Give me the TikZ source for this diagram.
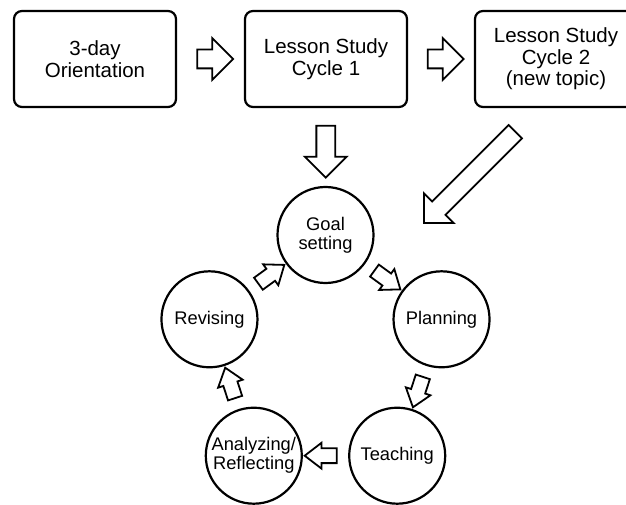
\documentclass[tikz,border=0pt]{standalone}
\usepackage{fontspec}
\setmainfont{Liberation Sans}
\usetikzlibrary{shapes.arrows,calc}
\tikzset{>=latex}

\begin{document}
\begin{tikzpicture}[x=1pt,y=1pt,
    stage/.style={draw,line width=2.2pt,rounded corners=8pt,minimum width=162pt,
      minimum height=96pt,align=center,font=\fontsize{20.5}{21.5}\selectfont},
    phase/.style={draw,circle,line width=2.2pt,minimum size=96pt,inner sep=0pt,
      align=center,font=\fontsize{18.3}{19}\selectfont},
    bigarrow/.style={draw,single arrow,line width=1.8pt,inner xsep=0pt,inner ysep=8.5pt,
      single arrow head extend=11.5pt,single arrow head indent=0pt},
    smallarrow/.style={draw,single arrow,line width=1.8pt,inner xsep=0pt,inner ysep=6.5pt,
      single arrow head extend=5.5pt,single arrow tip angle=75,minimum height=32pt}]
                \clip (0,0) rectangle (626,-505);
                \node[stage] (orient) at (95,-59) {3-day\\Orientation};
                \node[stage] (cyc1) at (326,-59) {Lesson Study\\Cycle 1};
                \node[stage] (cyc2) at (556,-59) {Lesson Study\\Cycle 2\\(new topic)};
                \coordinate (ring) at (325.5,-357);
                \node[phase] (goal) at ($(ring)+(90:122)$) {Goal\\setting};
                \node[phase] (plan) at ($(ring)+(18:122)$) {Planning};
                \node[phase] (teach) at ($(ring)+(-54:122)$) {Teaching};
                \node[phase] (analyze) at ($(ring)+(-126:122)$) {Analyzing/\\Reflecting};
                \node[phase] (revise) at ($(ring)+(162:122)$) {Revising};
                \node[bigarrow,minimum height=36pt] (a1) at ($(orient.east)!0.5!(cyc1.west)$) {};
                \node[bigarrow,minimum height=36pt] (a2) at ($(cyc1.east)!0.5!(cyc2.west)$) {};
                \node[bigarrow,minimum height=52pt,rotate=-90] (a3) at ($(cyc1.south)!0.5!(goal.north)$) {};
                \node[bigarrow,minimum height=129pt,rotate=-135] (a4) at (473,-174) {};
                \node[smallarrow,rotate=-36] (r1) at ($(goal)!0.5!(plan)$) {};
                \node[smallarrow,rotate=-108] (r2) at ($(plan)!0.5!(teach)$) {};
                \node[smallarrow,rotate=180] (r3) at ($(teach)!0.5!(analyze)$) {};
                \node[smallarrow,rotate=108] (r4) at ($(analyze)!0.5!(revise)$) {};
                \node[smallarrow,rotate=36] (r5) at ($(revise)!0.5!(goal)$) {};
            \end{tikzpicture}
\end{document}
